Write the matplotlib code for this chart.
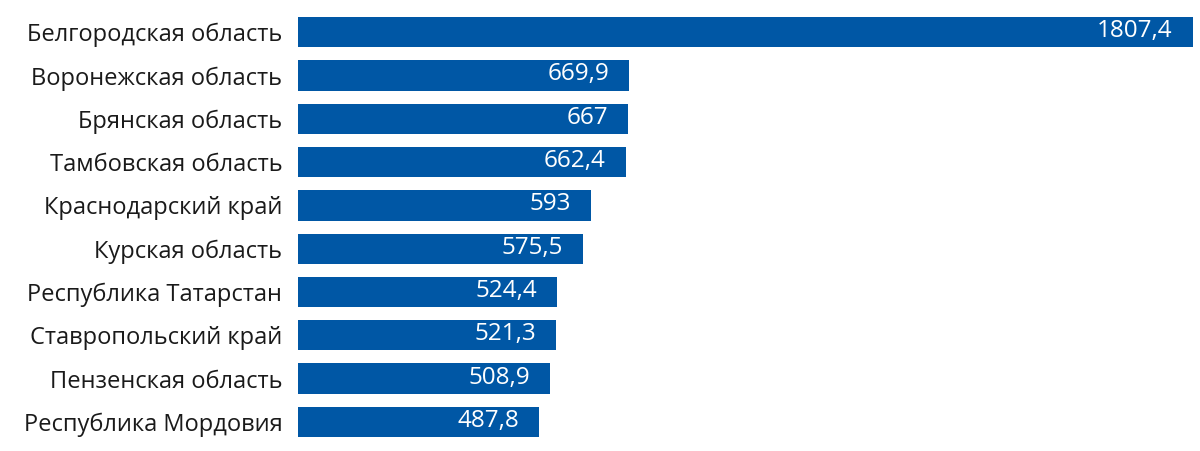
import matplotlib.pyplot as plt

regions = ['Белгородская область', 'Воронежская область', 'Брянская область',
           'Тамбовская область', 'Краснодарский край', 'Курская область',
           'Республика Татарстан', 'Ставропольский край', 'Пензенская область',
           'Республика Мордовия']
values = [1807.4, 669.9, 667, 662.4, 593, 575.5, 524.4, 521.3, 508.9, 487.8]
value_labels = ['1807,4', '669,9', '667', '662,4', '593', '575,5',
                '524,4', '521,3', '508,9', '487,8']

plt.rcParams['font.family'] = ['Open Sans', 'DejaVu Sans']

fig = plt.figure(figsize=(12, 4.51), dpi=100)
ax = fig.add_axes([0.248, 0, 0.752, 1])

pos = list(range(len(regions)))
ax.barh(pos, values, height=0.7, color='#0057a5')

# value labels inside the bar ends
for p, v, lab in zip(pos, values, value_labels):
    ax.annotate(lab, (v, p), xytext=(-20, 1), textcoords='offset pixels',
                ha='right', va='center', color='white', fontsize=17.5)

ax.set_xlim(0, 1821.7)
ax.set_ylim(9.67, -0.74)
ax.set_yticks(pos)
ax.set_yticklabels(regions, fontsize=17, color='#1a1a1a')
ax.tick_params(axis='y', length=0, pad=11)
ax.set_xticks([])
for s in ax.spines.values():
    s.set_visible(False)

plt.savefig('out.png', dpi=100)
